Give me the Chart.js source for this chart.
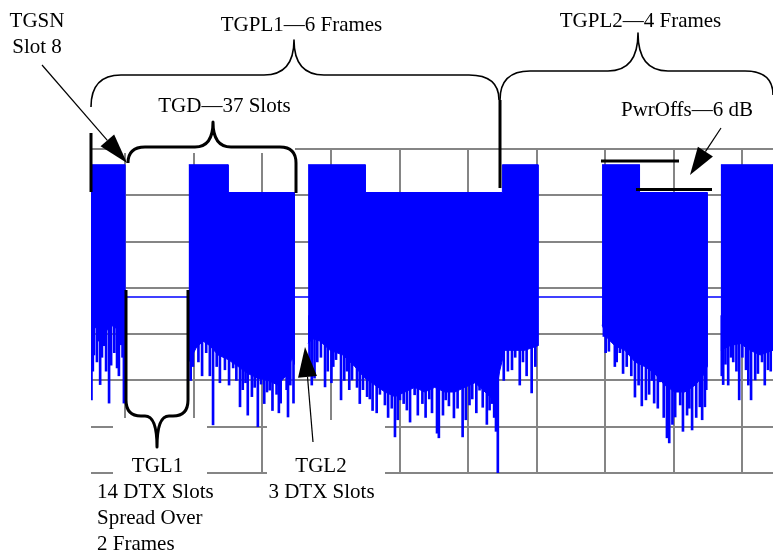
<!DOCTYPE html>
<html><head><meta charset="utf-8">
<script src="https://cdn.jsdelivr.net/npm/chart.js@4.4.0/dist/chart.umd.min.js"></script>
<style>html,body{margin:0;padding:0;background:#fff;overflow:hidden}canvas{display:block}</style>
</head><body>
<canvas id="c" width="773" height="553"></canvas>
<script>
// x axis: time in slots (15 slots = 1 frame = 1 grid division); y axis: power in dB (10 dB per division)
const FULL = -3.4;      // full power level
const OFFSET = -9.4;    // level after 6 dB power offset
const DTX = -32;        // level during DTX gaps
const frameTicks = [0, 15, 30, 45, 60, 75, 90, 105, 120, 135];
const dbTicks = [0, -10, -20, -30, -40, -50, -60, -70];

// top edge of each burst [slot, dB]
const burstTop1 = [[0, FULL], [7.4, FULL]];
const burstTop2 = [[21.4, FULL], [30, FULL], [30, OFFSET], [44.5, OFFSET]];
const burstTop3 = [[47.5, FULL], [60, FULL], [60, OFFSET], [90, OFFSET], [90, FULL], [97.8, FULL]];
const burstTop4 = [[111.8, FULL], [120, FULL], [120, OFFSET], [134.8, OFFSET]];
const burstTop5 = [[137.8, FULL], [149.2, FULL]];

// lower edge of the dense part of each burst [slot, dB]
const burstBottom1 = [[0,-39.5],[1.1,-38.5],[2.4,-40],[3.7,-39],[5,-38],[6.3,-40],[7.4,-41]];
const burstBottom2 = [[21.4,-46],[23,-43],[24.5,-41.5],[26,-42.5],[27.8,-44.5],[30,-45.5],[32.2,-47],[34.3,-48.5],[36.5,-49.5],[38.7,-50],[40.9,-51],[42.7,-49],[44,-45],[44.5,-46.5]];
const burstBottom3 = [[47.5,-42],[48.5,-41],[50.1,-41.5],[52.3,-43.5],[55.1,-44.5],[57.7,-47],[59.9,-49.5],[62.1,-51],[64.3,-52.5],[66.5,-53.5],[68.7,-52.5],[70.8,-51.5],[73,-52.5],[75.2,-51.5],[77.4,-52.5],[79.6,-52.5],[81.8,-51.5],[84,-50.5],[86.2,-52.5],[88.3,-54.5],[89.4,-48],[90.5,-43.5],[92.7,-43.5],[94.9,-43.5],[97.8,-42.5]];
const burstBottom4 = [[111.8,-38],[113.1,-41],[114.6,-42.5],[116.8,-43.5],[119,-46],[121.1,-47],[123.3,-48.5],[125.5,-51],[127.7,-52.5],[129.9,-52.5],[132.2,-51],[133.9,-49],[134.8,-47]];
const burstBottom5 = [[137.8,-43.5],[139.8,-42.5],[142,-42],[144.2,-43.5],[146.4,-44.5],[149.2,-43.5]];

// noise spikes below each burst [slot, dB]
const spikesBurst1 = [[0.1,-54.2],[0.4,-48],[0.65,-44.5],[1.3,-46],[1.6,-41.5],[2.0,-50.9],[2.4,-45],[2.85,-42.5],[3.3,-48],[3.95,-54.9],[4.4,-46.7],[5.1,-44],[5.7,-47.3],[6.1,-49],[6.55,-42.3],[6.9,-45],[7.2,-54.9]];
const spikesBurst2 = [[21.8,-50],[22.3,-47],[23.5,-46],[24.3,-49],[25.2,-44],[26.0,-49],[26.7,-59.6],[27.5,-47],[28.2,-50.5],[29.3,-47.7],[30.2,-51],[31.1,-47.3],[31.8,-50],[32.6,-55.7],[33.2,-52],[33.8,-50.5],[34.3,-57.5],[35.2,-53.5],[35.8,-51.5],[36.5,-60],[37.2,-50.8],[37.9,-55],[38.5,-52.5],[39.1,-52.1],[39.7,-56.5],[40.2,-50],[40.6,-53],[41.1,-57],[41.5,-54.9],[42.3,-49],[42.8,-52],[43.1,-57.9],[43.6,-51],[44.3,-54.9]];
const spikesBurst3 = [[47.8,-47],[48.3,-51],[48.9,-49.5],[49.5,-46],[50.3,-45],[51.2,-51.4],[51.8,-48],[52.6,-50.5],[53,-47],[53.6,-45.5],[54.7,-54.2],[55.4,-50],[56,-48],[56.5,-52],[57.1,-49.9],[58.2,-51.5],[58.8,-55],[59.5,-52],[60.4,-53.5],[61,-54],[61.6,-56.5],[62.5,-57],[63.2,-53],[64.3,-55.3],[65,-58],[65.8,-56],[66.5,-62.2],[67.1,-58.5],[67.6,-54.2],[68.4,-55],[69.1,-56.4],[69.8,-59],[70.8,-53.1],[71.5,-57.5],[72.5,-55],[73.2,-58],[74,-54],[74.6,-57],[75.7,-61.4],[76.1,-62.4],[77,-57.5],[77.6,-54.2],[78.3,-55.5],[79.4,-58.1],[80.2,-56],[81.3,-62.2],[82,-58.5],[82.8,-55.3],[83.4,-54],[84.3,-57],[85,-52.1],[85.7,-55.8],[86.6,-59.5],[87.2,-56.4],[87.7,-55],[88.2,-58],[88.6,-61],[89.0,-70],[90.3,-50],[91.2,-48],[92.1,-47.7],[92.8,-45],[93.8,-51],[94.5,-46],[95.3,-49],[96.4,-52.7],[97.2,-47]];
const spikesBurst4 = [[112.2,-40.5],[112.6,-44],[113.3,-43.7],[113.9,-41],[114.6,-47],[115,-46],[115.7,-44],[116.4,-48.5],[117.2,-47],[118.2,-49],[119.0,-53.6],[119.8,-51],[120.5,-55.5],[121.4,-54.2],[122.1,-53],[122.7,-50],[123.2,-54.9],[124.0,-56],[124.5,-50.3],[125.3,-58],[126.0,-62.4],[126.5,-63.5],[127.2,-59.5],[127.8,-57.9],[128.9,-55.3],[129.5,-61],[130.4,-57.5],[130.9,-56],[131.5,-60.7],[132.4,-58],[133.2,-55.7],[133.7,-58.5],[134.3,-55.7],[134.6,-52]];
const spikesBurst5 = [[138.0,-49],[138.3,-50.9],[138.8,-46.5],[139.4,-51],[140.0,-45],[140.5,-46],[141.2,-48],[141.8,-54.2],[142.5,-45],[143.3,-47.7],[143.8,-51],[144.4,-54.2],[145.3,-49.9],[145.9,-48.5],[146.8,-46],[147.4,-51],[148.1,-47.7],[148.7,-48]];

const BLUE = '#0000ff';
function polygon(top, bottom) {
  const pts = top.map(([x, y]) => ({x, y}));
  for (let i = bottom.length - 1; i >= 0; i--) pts.push({x: bottom[i][0], y: bottom[i][1]});
  return pts;
}
const bursts = [[burstTop1, burstBottom1],[burstTop2, burstBottom2],[burstTop3, burstBottom3],[burstTop4, burstBottom4],[burstTop5, burstBottom5]];
const spikes = [].concat(spikesBurst1, spikesBurst2, spikesBurst3, spikesBurst4, spikesBurst5);
const datasets = [];
datasets.push({type:'line', data:[{x:0,y:DTX},{x:149.2,y:DTX}], borderColor:BLUE, borderWidth:1.5, pointRadius:0, fill:false, order:3});
bursts.forEach(([t, b]) => datasets.push({type:'line', data: polygon(t, b), borderColor: BLUE, borderWidth: 1, backgroundColor: BLUE, fill: 'shape', pointRadius: 0, tension: 0, order: 2}));
datasets.push({type:'bar', data: spikes.map(([s, d]) => ({x: s, y: [d, -36]})), backgroundColor: BLUE, borderWidth: 0, barThickness: 2, grouped: false, order: 1});

const SERIF = '21px "Liberation Serif", "Times New Roman", serif';
function arrow(c, x0, y0, x1, y1, len, hw, lw) {
  const dx = x1 - x0, dy = y1 - y0, L = Math.hypot(dx, dy), ux = dx / L, uy = dy / L;
  const bx = x1 - ux * len, by = y1 - uy * len;
  c.lineWidth = lw; c.beginPath(); c.moveTo(x0, y0); c.lineTo(bx, by); c.stroke();
  c.beginPath(); c.moveTo(x1, y1); c.lineTo(bx - uy * hw, by + ux * hw); c.lineTo(bx + uy * hw, by - ux * hw); c.closePath(); c.fill();
}
function line(c, x0, y0, x1, y1, lw) { c.lineWidth = lw; c.beginPath(); c.moveTo(x0, y0); c.lineTo(x1, y1); c.stroke(); }

const annotations = {
  id: 'annotations',
  beforeDatasetsDraw(chart) {
    const c = chart.ctx; c.save(); c.fillStyle = '#fff';
    c.fillRect(117, 138, 178, 15);
    c.fillRect(113, 418, 94, 140);
    c.fillRect(267, 420, 118, 140);
    c.restore();
  },
  afterDraw(chart) {
    const c = chart.ctx; c.save();
    c.strokeStyle = '#000'; c.fillStyle = '#000'; c.lineCap = 'butt'; c.lineJoin = 'round';
    // TGPL1 brace
    c.lineWidth = 1.6; c.beginPath();
    c.moveTo(91, 107); c.quadraticCurveTo(91, 75, 121, 75); c.lineTo(264, 75);
    c.quadraticCurveTo(294, 75, 294, 40); c.quadraticCurveTo(294, 75, 324, 75);
    c.lineTo(469, 75); c.quadraticCurveTo(499, 75, 499, 100); c.stroke();
    // TGPL2 brace
    c.beginPath();
    c.moveTo(500, 100); c.quadraticCurveTo(500, 71, 530, 71); c.lineTo(608, 71);
    c.quadraticCurveTo(638, 71, 638, 33); c.quadraticCurveTo(638, 71, 668, 71);
    c.lineTo(745, 71); c.quadraticCurveTo(773, 71, 773, 95); c.stroke();
    // TGD brace
    c.lineWidth = 3; c.beginPath();
    c.moveTo(128, 163); c.quadraticCurveTo(128, 147, 145, 147); c.lineTo(195, 147);
    c.quadraticCurveTo(213, 147, 213, 122); c.quadraticCurveTo(213, 147, 231, 147);
    c.lineTo(280, 147); c.quadraticCurveTo(296, 147, 296, 163); c.lineTo(296, 193); c.stroke();
    // TGL1 brace
    c.beginPath();
    c.moveTo(126, 290); c.lineTo(126, 400); c.quadraticCurveTo(126, 416, 141, 416); c.lineTo(145, 416);
    c.quadraticCurveTo(157, 416, 157, 447); c.quadraticCurveTo(157, 416, 169, 416); c.lineTo(173, 416);
    c.quadraticCurveTo(188, 416, 188, 400); c.lineTo(188, 290); c.stroke();
    // markers
    line(c, 91, 133, 91, 192, 3);
    line(c, 500, 100, 500, 188, 3);
    line(c, 601, 161, 679, 161, 3);
    line(c, 636, 189.5, 712, 189.5, 3);
    // arrows
    arrow(c, 42, 65, 127, 163, 30, 9, 1.2);
    arrow(c, 313, 442, 305, 347, 30, 9.5, 1.2);
    arrow(c, 721, 128, 690, 175, 28, 9, 1.2);
    // text
    c.font = SERIF; c.textBaseline = 'alphabetic'; c.textAlign = 'center';
    c.fillText('TGSN', 37, 27);
    c.fillText('Slot 8', 37, 53);
    c.fillText('TGPL1\u20146 Frames', 301.5, 31);
    c.fillText('TGPL2\u20144 Frames', 640.5, 27);
    c.fillText('TGD\u201437 Slots', 224.5, 112);
    c.fillText('PwrOffs\u20146 dB', 687, 116);
    c.fillText('TGL1', 157.5, 472);
    c.fillText('TGL2', 321, 472);
    c.fillText('3 DTX Slots', 321.5, 498);
    c.textAlign = 'left';
    c.fillText('14 DTX Slots', 97, 498);
    c.fillText('Spread Over', 97, 524);
    c.fillText('2 Frames', 97, 550);
    c.restore();
  }
};

new Chart(document.getElementById('c'), {
  type: 'line',
  data: { datasets },
  options: {
    responsive: false, animation: false, events: [],
    layout: { padding: { left: 91, top: 149, right: 0, bottom: 80 } },
    plugins: { legend: { display: false }, tooltip: { enabled: false } },
    scales: {
      x: { type: 'linear', min: 0, max: 149.2, offset: false,
        afterBuildTicks: s => { s.ticks = frameTicks.map(v => ({ value: v })); },
        ticks: { display: false }, border: { display: false },
        grid: { color: '#858585', lineWidth: 2, drawTicks: false } },
      y: { type: 'linear', min: -70, max: 0,
        afterBuildTicks: s => { s.ticks = dbTicks.map(v => ({ value: v })); },
        ticks: { display: false }, border: { display: false },
        grid: { color: '#858585', lineWidth: 2, drawTicks: false } }
    }
  },
  plugins: [annotations]
});
</script>
</body></html>
